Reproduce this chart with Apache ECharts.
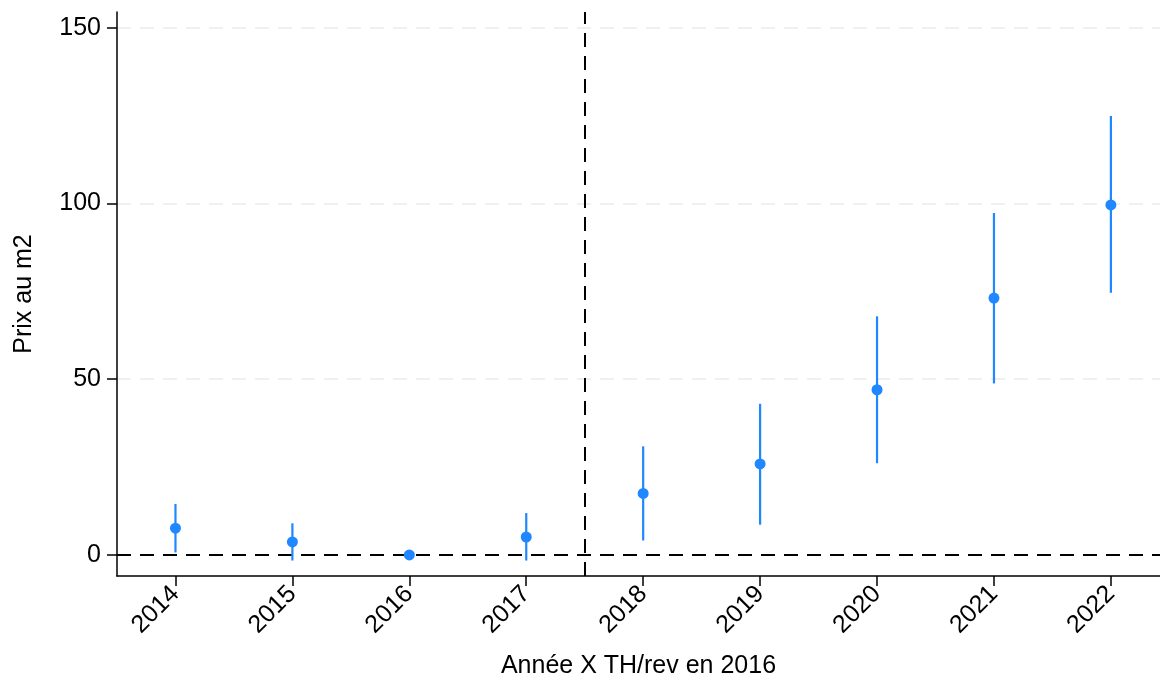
<!DOCTYPE html>
<html>
<head>
<meta charset="utf-8">
<script src="https://cdn.jsdelivr.net/npm/echarts@6/dist/echarts.min.js"></script>
<style>
html,body{margin:0;padding:0;background:#fff;}
#chart{width:1160px;height:676px;}
</style>
</head>
<body>
<div id="chart"></div>
<script>
var years = [2014, 2015, 2016, 2017, 2018, 2019, 2020, 2021, 2022];
var coef  = [7.6, 3.7, 0, 5.1, 17.5, 25.9, 47.0, 73.1, 99.6];
var ciLow = [0.7, -1.6, null, -1.6, 4.1, 8.6, 26.1, 48.8, 74.6];
var ciHigh = [14.5, 9.0, null, 11.9, 30.9, 43.0, 67.9, 97.3, 124.9];
var yTicks = [0, 50, 100, 150];
var gridValues = [50, 100, 150];
var refYear = 2017.5;
var refValue = 0;

var blue = '#1f87ff';
var font = '"Liberation Sans", Arial, sans-serif';
var fs = 25;

var ciData = [];
var scatterData = [];
for (var i = 0; i < years.length; i++) {
  scatterData.push([years[i], coef[i]]);
  if (ciLow[i] != null && ciHigh[i] != null) ciData.push([years[i], ciLow[i], ciHigh[i]]);
}

var chart = echarts.init(document.getElementById('chart'), null, {renderer: 'canvas'});
chart.setOption({
  animation: false,
  backgroundColor: '#fff',
  textStyle: {fontFamily: font},
  grid: {left: 117, right: 0, top: 12, bottom: 100, containLabel: false, outerBoundsMode: 'none'},
  xAxis: {
    type: 'value',
    min: 2013.5,
    max: 2022.42,
    name: 'Année X TH/rev en 2016',
    nameLocation: 'middle',
    nameGap: 78,
    nameTextStyle: {fontSize: fs, color: '#000', fontFamily: font},
    axisLine: {show: true, onZero: false, lineStyle: {color: '#000', width: 1.5}},
    axisTick: {show: true, length: 10, lineStyle: {color: '#000', width: 1.5}, customValues: years},
    axisLabel: {show: true, rotate: 45, fontSize: fs, color: '#000', margin: 14, fontFamily: font,
                customValues: years, formatter: function (v) { return String(v); }},
    splitLine: {show: false}
  },
  yAxis: {
    type: 'value',
    min: -6,
    max: 154.5,
    name: 'Prix au m2',
    nameLocation: 'middle',
    nameGap: 80,
    nameTextStyle: {fontSize: fs, color: '#000', fontFamily: font},
    axisLine: {show: true, onZero: false, lineStyle: {color: '#000', width: 1.5}},
    axisTick: {show: true, length: 10, lineStyle: {color: '#000', width: 1.5}, customValues: yTicks},
    axisLabel: {show: true, fontSize: fs, color: '#000', margin: 16, fontFamily: font, customValues: yTicks},
    splitLine: {show: false}
  },
  series: [
    {
      type: 'line',
      data: [],
      z: 0,
      silent: true,
      markLine: {
        z: 0,
        silent: true,
        symbol: 'none',
        label: {show: false},
        lineStyle: {color: '#ebebeb', type: [14, 9], width: 1.5},
        data: gridValues.map(function (v) { return {yAxis: v}; })
      }
    },
    {
      type: 'line',
      data: [],
      z: 1,
      silent: true,
      markLine: {
        z: 1,
        silent: true,
        symbol: 'none',
        label: {show: false},
        lineStyle: {color: '#000', type: [14, 9], width: 2},
        data: [{yAxis: refValue}, {xAxis: refYear}]
      }
    },
    {
      type: 'custom',
      z: 2,
      data: ciData,
      encode: {x: 0, y: [1, 2]},
      renderItem: function (params, api) {
        var x = api.value(0);
        var p1 = api.coord([x, api.value(1)]);
        var p2 = api.coord([x, api.value(2)]);
        return {
          type: 'line',
          shape: {x1: p1[0], y1: p1[1], x2: p2[0], y2: p2[1]},
          style: {stroke: blue, lineWidth: 2.2}
        };
      }
    },
    {
      type: 'scatter',
      z: 3,
      data: scatterData,
      symbol: 'circle',
      symbolSize: 11,
      itemStyle: {color: blue, opacity: 1}
    }
  ]
});
</script>
</body>
</html>
